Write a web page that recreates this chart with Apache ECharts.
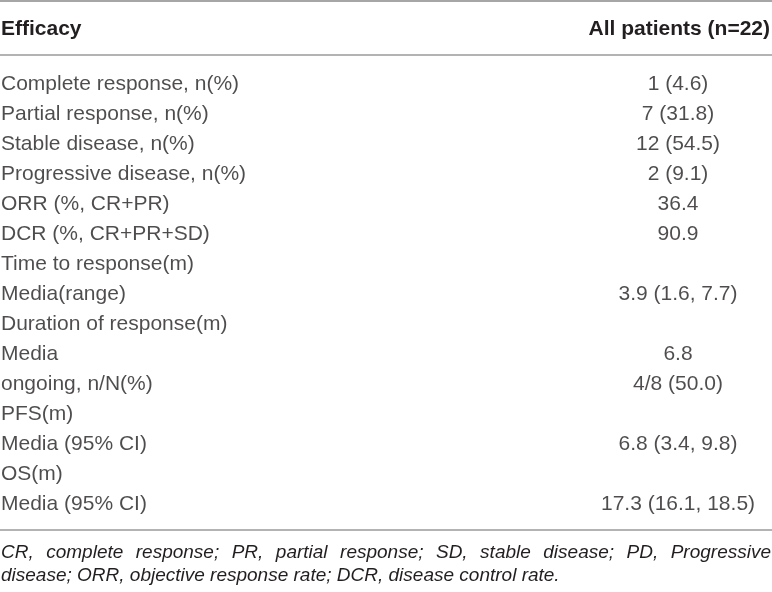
<!doctype html>
<html lang="en">
<head>
    <meta charset="utf-8">
    <title>efficacy-table</title>
    <script src="https://cdn.jsdelivr.net/npm/echarts@6/dist/echarts.min.js"></script>
    <style>
        *{margin:0;padding:0}
        html,body{width:100%;height:100%;background:#fff;}
        #main{width:772px;height:592px;}
    </style>
</head>
<body>
<div id="main"></div>
<script type="text/javascript">
    var headLeft = 'Efficacy';
    var headRight = 'All patients (n=22)';

    var rowLabels = [
        'Complete response, n(%)',
        'Partial response, n(%)',
        'Stable disease, n(%)',
        'Progressive disease, n(%)',
        'ORR (%, CR+PR)',
        'DCR (%, CR+PR+SD)',
        'Time to response(m)',
        'Media(range)',
        'Duration of response(m)',
        'Media',
        'ongoing, n/N(%)',
        'PFS(m)',
        'Media (95% CI)',
        'OS(m)',
        'Media (95% CI)'
    ];
    var rowValues = [
        '1 (4.6)', '7 (31.8)', '12 (54.5)', '2 (9.1)', '36.4', '90.9',
        '', '3.9 (1.6, 7.7)', '', '6.8', '4/8 (50.0)', '',
        '6.8 (3.4, 9.8)', '', '17.3 (16.1, 18.5)'
    ];
    var footLines = [
        'CR, complete response; PR, partial response; SD, stable disease; PD, Progressive',
        'disease; ORR, objective response rate; DCR, disease control rate.'
    ];

    var FONT = 'Liberation Sans, Arial, sans-serif';
    var INK = '#231f20';
    var RULE = '#9a9a9a';
    var W = 772;

    var myChart = echarts.init(document.getElementById('main'));

    // justify the first footnote line over the full width
    var ctx = document.createElement('canvas').getContext('2d');
    ctx.font = 'italic 19px ' + FONT;
    var footGraphics = [];
    var words = footLines[0].split(' ');
    var widths = words.map(function(w){ return ctx.measureText(w).width; });
    var total = widths.reduce(function(a, b){ return a + b; }, 0);
    var gap = (W - 2 - total) / (words.length - 1);
    var xPos = 1;
    words.forEach(function(w, i){
        footGraphics.push({
            type: 'text', x: xPos, y: 553,
            style: {text: w, font: 'italic 19px ' + FONT, fill: INK, verticalAlign: 'middle', align: 'left'}
        });
        xPos += widths[i] + gap;
    });
    footGraphics.push({
        type: 'text', x: 1, y: 576,
        style: {text: footLines[1], font: 'italic 19px ' + FONT, fill: INK, verticalAlign: 'middle', align: 'left'}
    });

    var rowIdx = rowLabels.map(function(_, i){ return i; });

    var option = {
        backgroundColor: '#fff',
        animation: false,
        grid: {left: 0, right: 0, top: 69, bottom: 73},
        xAxis: {type: 'value', min: 0, max: W, show: false},
        yAxis: {type: 'category', data: rowIdx, inverse: true, show: false},
        graphic: [
            {type: 'line', shape: {x1: 0, y1: 1, x2: W, y2: 1}, style: {stroke: '#888', lineWidth: 1.5}},
            {type: 'line', shape: {x1: 0, y1: 55, x2: W, y2: 55}, style: {stroke: RULE, lineWidth: 1.5}},
            {type: 'line', shape: {x1: 0, y1: 530, x2: W, y2: 530}, style: {stroke: RULE, lineWidth: 1.5}},
            {type: 'text', x: 1, y: 29, style: {text: headLeft, font: 'bold 21px ' + FONT, fill: INK, verticalAlign: 'middle', align: 'left'}},
            {type: 'text', x: 770, y: 29, style: {text: headRight, font: 'bold 21px ' + FONT, fill: INK, verticalAlign: 'middle', align: 'right'}}
        ].concat(footGraphics),
        series: [
            {
                type: 'scatter',
                symbolSize: 0,
                silent: true,
                label: {
                    show: true, position: 'right', distance: 0,
                    color: INK, fontFamily: FONT, fontSize: 21,
                    formatter: function(p){ return rowLabels[p.dataIndex]; }
                },
                data: rowIdx.map(function(i){ return [1, i]; })
            },
            {
                type: 'scatter',
                symbolSize: 0,
                silent: true,
                label: {
                    show: true, position: 'inside',
                    color: INK, fontFamily: FONT, fontSize: 21,
                    formatter: function(p){ return rowValues[p.dataIndex]; }
                },
                data: rowIdx.map(function(i){ return [678, i]; })
            }
        ]
    };
    myChart.setOption(option);
</script>
</body>
</html>
